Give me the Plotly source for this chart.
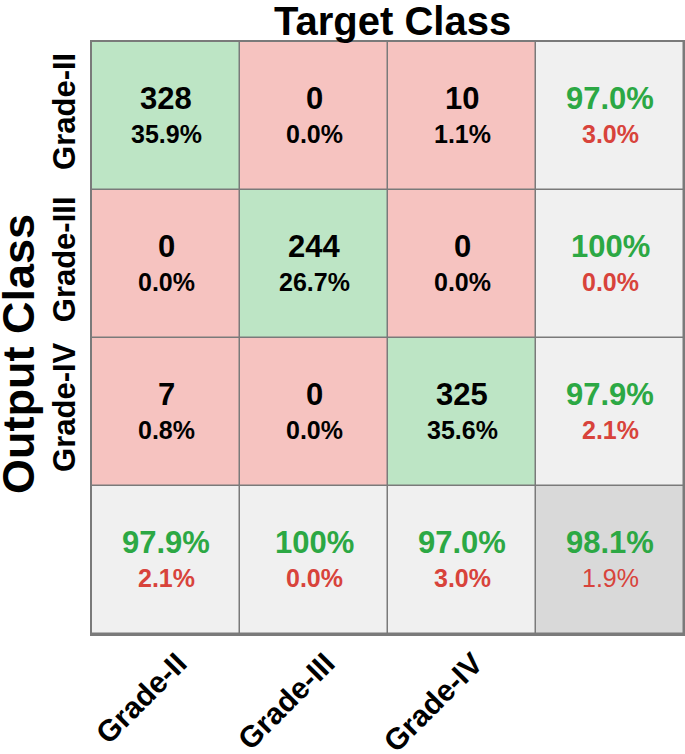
import plotly.graph_objects as go

classes = ["Grade-II", "Grade-III", "Grade-IV"]
counts = [[328, 0, 10],
          [0, 244, 0],
          [7, 0, 325]]
cell_pct = [[35.9, 0.0, 1.1],
            [0.0, 26.7, 0.0],
            [0.8, 0.0, 35.6]]
row_correct = [97.0, 100.0, 97.9]
row_error = [3.0, 0.0, 2.1]
col_correct = [97.9, 100.0, 97.0]
col_error = [2.1, 0.0, 3.0]
overall_correct = 98.1
overall_error = 1.9

FONT = "Liberation Sans, Arial, sans-serif"
GREEN_BG = "#bde5c5"
RED_BG = "#f6c3c0"
LGRAY_BG = "#f0f0f0"
DGRAY_BG = "#d9d9d9"
GREEN_TX = "#2ca844"
RED_TX = "#d8433b"
GRID = "#7a7a7a"

n = len(classes)
N = n + 1

def fmt(v):
    return "100%" if v >= 100 else f"{v:.1f}%"

# color category matrix
z = []
for i in range(N):
    row = []
    for j in range(N):
        if i < n and j < n:
            row.append(0 if i == j else 1)
        elif i == n and j == n:
            row.append(3)
        else:
            row.append(2)
    z.append(row)

colorscale = [[0, GREEN_BG], [0.25, GREEN_BG], [0.25, RED_BG], [0.5, RED_BG],
              [0.5, LGRAY_BG], [0.75, LGRAY_BG], [0.75, DGRAY_BG], [1, DGRAY_BG]]

fig = go.Figure(go.Heatmap(
    z=z, x=list(range(N)), y=list(range(N)),
    colorscale=colorscale, zmin=-0.5, zmax=3.5, showscale=False,
    xgap=1.5, ygap=1.5, hoverinfo="skip"))

ann = []
def add_cell(i, j, top, bot, ctop, cbot, sztop=31, szbot=25, boldbot=True):
    ann.append(dict(x=j, y=i, xref="x", yref="y", text=f"<b>{top}</b>",
                    showarrow=False, yshift=18,
                    font=dict(family=FONT, size=sztop, color=ctop)))
    ann.append(dict(x=j, y=i, xref="x", yref="y",
                    text=(f"<b>{bot}</b>" if boldbot else bot),
                    showarrow=False, yshift=-18,
                    font=dict(family=FONT, size=szbot, color=cbot)))

for i in range(n):
    for j in range(n):
        add_cell(i, j, str(counts[i][j]), fmt(cell_pct[i][j]), "black", "black")
    add_cell(i, n, fmt(row_correct[i]), fmt(row_error[i]), GREEN_TX, RED_TX)
for j in range(n):
    add_cell(n, j, fmt(col_correct[j]), fmt(col_error[j]), GREEN_TX, RED_TX)
add_cell(n, n, fmt(overall_correct), fmt(overall_error), GREEN_TX, RED_TX, boldbot=False)

ann.append(dict(x=0.5, y=1, xref="paper", yref="paper", yanchor="bottom", yshift=-3, xshift=4,
                text="<b>Target Class</b>", showarrow=False,
                font=dict(family=FONT, size=40, color="black")))
ann.append(dict(x=0, y=0.5, xref="paper", yref="paper", xanchor="center", xshift=-74, yshift=-16,
                text="<b>Output Class</b>", showarrow=False, textangle=-90,
                font=dict(family=FONT, size=45, color="black")))

fig.update_layout(
    width=685, height=754,
    margin=dict(l=92, r=1, t=42, b=120),
    paper_bgcolor="white", plot_bgcolor=GRID,
    annotations=ann,
    xaxis=dict(range=[-0.5, N - 0.5], tickvals=list(range(n)), ticktext=[f"<b>{c}</b>" for c in classes],
               tickangle=-45, showgrid=False, zeroline=False, ticks="", automargin=False,
               showline=True, mirror=True, linecolor=GRID, linewidth=1.5,
               ticklabelstandoff=-2, ticklabelshift=12,
               tickfont=dict(family=FONT, size=30, color="black")),
    yaxis=dict(range=[N - 0.5, -0.5], tickvals=list(range(n)), ticktext=[f"<b>{c}</b>" for c in classes],
               tickangle=-90, showgrid=False, zeroline=False, ticks="", automargin=False,
               showline=True, mirror=True, linecolor=GRID, linewidth=1.5, ticklabelstandoff=3,
               tickfont=dict(family=FONT, size=31, color="black")),
)

fig.write_html("out.html", config={"displayModeBar": False},
               post_script="document.body.style.margin='0';document.body.style.overflow='hidden';")
